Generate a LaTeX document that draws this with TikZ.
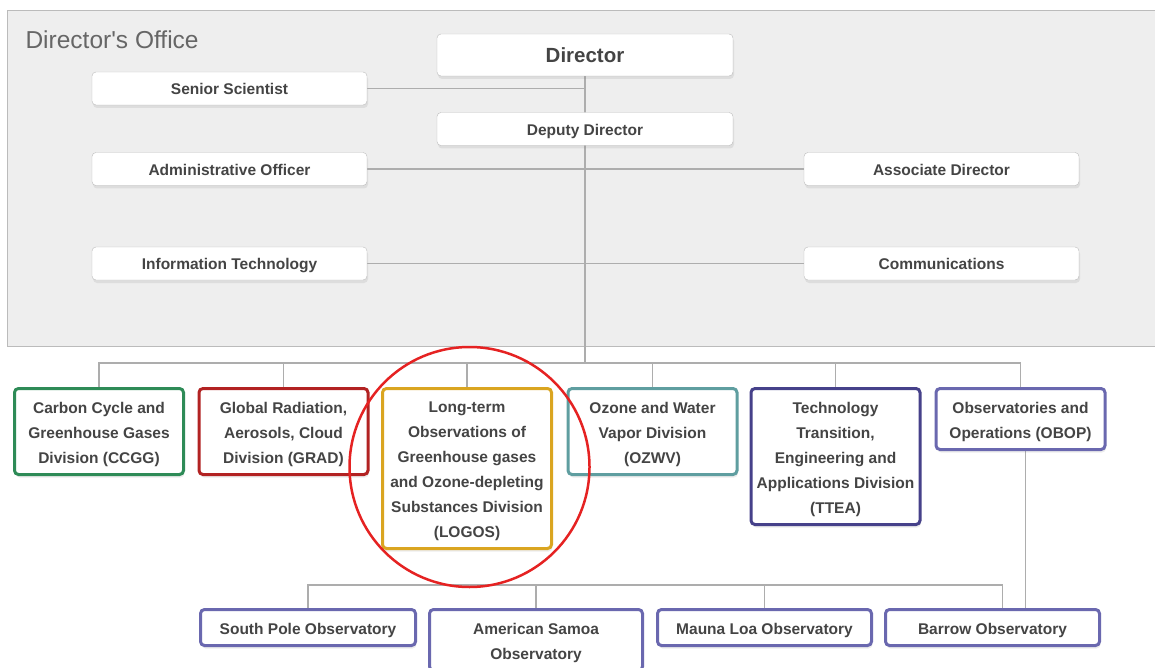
\documentclass[tikz,border=0pt]{standalone}
\usepackage{fontspec}
\setmainfont{Liberation Sans}
\usetikzlibrary{positioning, shadows, backgrounds}
\definecolor{ink}{HTML}{444444}
\definecolor{labelgray}{HTML}{666666}
\definecolor{panel}{HTML}{EEEEEE}
\definecolor{edge}{HTML}{BBBBBB}
\definecolor{wirecol}{HTML}{ADADAD}
\definecolor{ccggcol}{HTML}{2E8B57}
\definecolor{gradcol}{HTML}{B22222}
\definecolor{logoscol}{HTML}{DAA520}
\definecolor{ozwvcol}{HTML}{5F9EA0}
\definecolor{tteacol}{HTML}{46418A}
\definecolor{obscol}{HTML}{6A68AF}
\definecolor{ringcol}{HTML}{E52222}
\newcommand{\divstrut}{\rule{0pt}{17pt}}

\begin{document}
\begin{tikzpicture}[x=1pt, y=-1pt, text=ink, font=\bfseries\fontsize{15.5}{25}\selectfont,
  boxshadow/.style={drop shadow={shadow xshift=1pt, shadow yshift=-3pt, opacity=0.15}},
  staff/.style={draw=edge, fill=white, rounded corners=4pt, minimum width=275pt, minimum height=33pt, inner sep=0pt, text height=12.5pt, text depth=0pt, boxshadow},
  division/.style={draw=#1, line width=3pt, fill=white, rounded corners=4pt, minimum width=169pt, align=center, inner sep=0pt, boxshadow},
  wire/.style={draw=wirecol, line width=1.5pt}]
\useasboundingbox (0,0) rectangle (1155,668);

% director's office
\node[anchor=base west, text=labelgray, font=\fontsize{24.5}{28}\selectfont] (office) at (22,49) {Director\textquotesingle s Office};
\node[staff, minimum width=296pt, minimum height=42pt, text height=14.5pt, font=\bfseries\fontsize{20.5}{24}\selectfont] (dir) at (585,55) {Director};
\node[staff] (sen) at (229.5,88.5) {Senior Scientist};
\node[staff, minimum width=296pt] (dep) at (585,129) {Deputy Director};
\node[staff] (adm) at (229.5,169) {Administrative Officer};
\node[staff] (asc) at (941.5,169) {Associate Director};
\node[staff] (it) at (229.5,263.5) {Information Technology};
\node[staff] (com) at (941.5,263.5) {Communications};

% divisions
\node[division=ccggcol, minimum height=86pt] (ccgg) at (99,431.5) {\divstrut Carbon Cycle and\\Greenhouse Gases\\Division (CCGG)};
\node[division=gradcol, minimum height=86pt] (grad) at (283.5,431.5) {\divstrut Global Radiation,\\Aerosols, Cloud\\Division (GRAD)};
\node[division=logoscol, minimum height=160pt] (logos) at (467,468.5) {\divstrut Long-term\\Observations of\\Greenhouse gases\\and Ozone-depleting\\Substances Division\\(LOGOS)};
\node[division=ozwvcol, minimum height=86pt] (ozwv) at (652.5,431.5) {\divstrut Ozone and Water\\Vapor Division\\(OZWV)};
\node[division=tteacol, minimum height=136pt] (ttea) at (835.5,456.5) {\divstrut Technology\\Transition,\\Engineering and\\Applications Division\\(TTEA)};
\node[division=obscol, minimum height=61pt] (obop) at (1020.5,419) {\divstrut Observatories and\\Operations (OBOP)};

% observatories
\node[division=obscol, minimum width=215pt, minimum height=36pt] (spo) at (308,627.5) {\divstrut South Pole Observatory};
\node[division=obscol, minimum width=213pt, minimum height=61pt] (asm) at (536,640) {\divstrut American Samoa\\Observatory};
\node[division=obscol, minimum width=214pt, minimum height=36pt] (mlo) at (764.5,627.5) {\divstrut Mauna Loa Observatory};
\node[division=obscol, minimum width=214pt, minimum height=36pt] (brw) at (992.5,627.5) {\divstrut Barrow Observatory};

\node[circle, draw=ringcol, line width=2.5pt, minimum size=240pt] (ring) at (469.5,467) {};

\begin{pgfonlayer}{background}
\draw[draw=edge, fill=panel] (7,10) rectangle (1170,346);
\coordinate (hub) at (585,363);
\coordinate (obsbus) at (536,585);
\draw[wire] (dir) -- (hub);
\draw[wire] (sen) -- (sen -| dir);
\draw[wire] (adm) -- (asc);
\draw[wire] (it) -- (com);
\foreach \d in {ccgg, grad, logos, ozwv, ttea, obop}
  \draw[wire] (\d.north) |- (hub);
\foreach \o in {spo, asm, mlo}
  \draw[wire] (\o.north) |- (obsbus);
\draw[wire] ([xshift=10pt] brw.north) |- (obsbus);
\draw[wire] ([xshift=5pt] obop.south) -- ([xshift=5pt] obop.south |- brw.north);
\end{pgfonlayer}
\end{tikzpicture}
\end{document}
